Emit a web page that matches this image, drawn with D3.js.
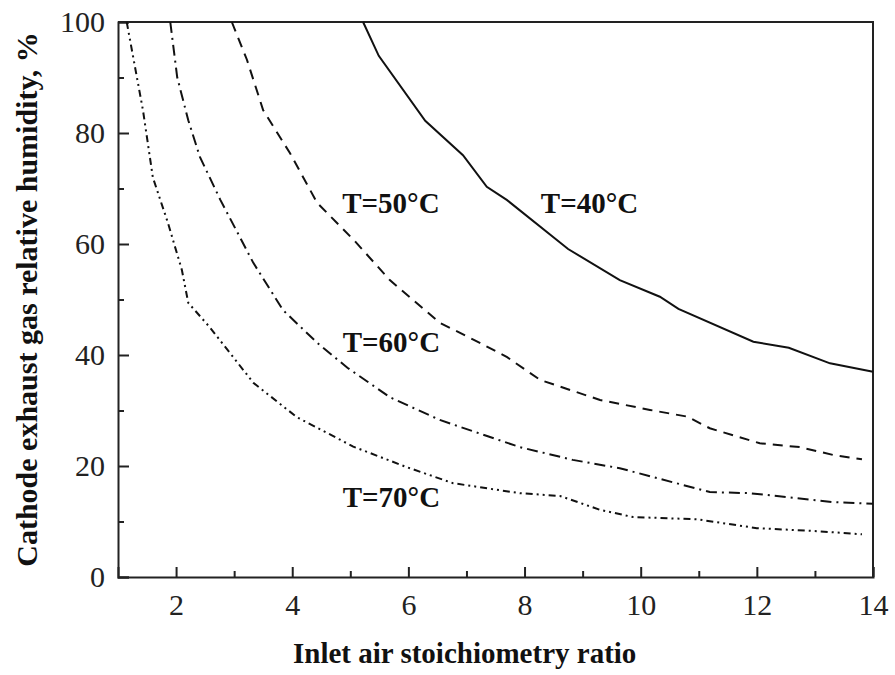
<!DOCTYPE html>
<html>
<head>
<meta charset="utf-8">
<script src="https://cdn.jsdelivr.net/npm/d3@7"></script>
<style>
  html, body { margin: 0; padding: 0; background: #fff; }
</style>
</head>
<body>
<svg width="895" height="675"></svg>
<script>
// valores: razão estequiométrica vs umidade relativa (%)
const t40x = [5.22, 5.49, 6.29, 6.94, 7.35, 7.70, 8.75, 9.64, 10.33, 10.65, 11.94, 12.55, 13.26, 14.0];
const t40y = [100, 93.9, 82.2, 76.0, 70.3, 67.9, 59.1, 53.5, 50.5, 48.3, 42.4, 41.3, 38.5, 37.0];

const t50x = [2.96, 3.22, 3.50, 3.96, 4.43, 5.08, 5.68, 6.54, 7.23, 7.70, 8.27, 9.30, 10.16, 10.80, 11.19, 12.05, 12.74, 13.31, 13.81];
const t50y = [100, 93.2, 84.1, 76.4, 67.4, 60.5, 53.5, 45.8, 42.2, 39.6, 35.5, 31.9, 30.1, 28.9, 26.8, 24.1, 23.4, 22.0, 21.2];

const t60x = [1.90, 2.02, 2.21, 2.41, 2.76, 3.33, 3.84, 4.43, 4.95, 5.68, 6.54, 7.92, 8.83, 9.64, 11.19, 11.88, 12.52, 13.31, 14.0];
const t60y = [100, 90.0, 82.3, 75.7, 68.0, 56.6, 48.1, 42.2, 37.7, 32.4, 28.3, 23.4, 21.1, 19.6, 15.3, 15.1, 14.4, 13.5, 13.2];

const t70x = [1.15, 1.43, 1.60, 1.86, 2.10, 2.21, 2.58, 3.33, 4.08, 5.05, 5.97, 6.77, 7.92, 8.61, 9.30, 9.87, 10.97, 12.0, 12.97, 13.81];
const t70y = [100, 84.1, 72.0, 63.8, 55.3, 49.4, 45.0, 35.0, 28.8, 23.5, 19.8, 16.9, 15.1, 14.6, 12.1, 10.8, 10.4, 8.8, 8.3, 7.7];

const seriesNames = ['T=40°C', 'T=50°C', 'T=60°C', 'T=70°C'];
const xTicks = [2, 4, 6, 8, 10, 12, 14];
const yTicks = [0, 20, 40, 60, 80, 100];

const margens = { left: 118, right: 22, top: 22, bottom: 98 };
const fonte = '"Liberation Serif", "Times New Roman", serif';

const svg = d3.select('svg');
const width = +svg.attr('width');
const height = +svg.attr('height');
const innerWidth = width - margens.left - margens.right;
const innerHeight = height - margens.top - margens.bottom;

const x = d3.scaleLinear().domain([1, 14]).range([0, innerWidth]);
const y = d3.scaleLinear().domain([0, 100]).range([innerHeight, 0]);

const g = svg.append('g')
  .attr('transform', `translate(${margens.left},${margens.top})`)
  .style('font-family', fonte);

// --- eixos (ticks para dentro) ---
const xAxis = g.append('g')
  .attr('transform', `translate(0,${innerHeight})`)
  .call(d3.axisBottom(x).tickValues(xTicks).tickSize(-10).tickPadding(17).tickFormat(d3.format('d')));
g.append('g')
  .attr('transform', `translate(0,${innerHeight})`)
  .call(d3.axisBottom(x).tickValues(d3.range(3, 14, 2)).tickSize(-6).tickFormat(''))
  .call(a => a.select('.domain').remove());

const yAxis = g.append('g')
  .call(d3.axisLeft(y).tickValues(yTicks).tickSize(-11).tickPadding(13).tickFormat(d3.format('d')));
g.append('g')
  .call(d3.axisLeft(y).tickValues(d3.range(10, 100, 20)).tickSize(-6).tickFormat(''))
  .call(a => a.select('.domain').remove());

g.selectAll('.tick line').attr('stroke', '#222').attr('stroke-width', 2);
g.selectAll('.domain').attr('stroke', '#222').attr('stroke-width', 2);
[xAxis, yAxis].forEach(eixo => {
  eixo.attr('font-family', null).attr('font-size', null);
  eixo.selectAll('text')
    .style('font-family', fonte)
    .style('font-size', '30px')
    .attr('fill', '#222');
});
xAxis.selectAll('text').attr('dy', '0.71em');

// moldura superior e direita
g.append('path')
  .attr('d', `M0,0H${innerWidth}V${innerHeight}`)
  .attr('fill', 'none')
  .attr('stroke', '#222')
  .attr('stroke-width', 2);

// --- curvas ---
const series = [
  { xs: t40x, ys: t40y, dash: null },
  { xs: t50x, ys: t50y, dash: '10,7' },
  { xs: t60x, ys: t60y, dash: '11,5,2,5' },
  { xs: t70x, ys: t70y, dash: '7,4,2,4,2,4' }
];

const line = d3.line()
  .x(d => x(d[0]))
  .y(d => y(d[1]));

series.forEach(s => {
  g.append('path')
    .datum(s.xs.map((v, i) => [v, s.ys[i]]))
    .attr('fill', 'none')
    .attr('stroke', '#111')
    .attr('stroke-width', 2)
    .attr('stroke-dasharray', s.dash)
    .attr('d', line);
});

// --- rótulos das curvas ---
const rotulos = [
  [8.28, 65.6],
  [4.86, 65.6],
  [4.87, 40.5],
  [4.87, 12.6]
];
seriesNames.forEach((nome, i) => {
  g.append('text')
    .attr('x', x(rotulos[i][0]))
    .attr('y', y(rotulos[i][1]))
    .style('font-family', fonte)
    .style('font-size', '29px')
    .style('font-weight', 'bold')
    .attr('fill', '#111')
    .text(nome);
});

// --- títulos dos eixos ---
svg.append('text')
  .attr('x', 293)
  .attr('y', 663)
  .style('font-family', fonte)
  .style('font-size', '29px')
  .style('font-weight', 'bold')
  .attr('fill', '#111')
  .text('Inlet air stoichiometry ratio');

svg.append('text')
  .attr('transform', 'rotate(-90)')
  .attr('x', -(margens.top + innerHeight / 2))
  .attr('y', 37)
  .attr('text-anchor', 'middle')
  .style('font-family', fonte)
  .style('font-size', '30px')
  .style('font-weight', 'bold')
  .attr('fill', '#111')
  .text('Cathode exhaust gas relative humidity, %');
</script>
</body>
</html>
